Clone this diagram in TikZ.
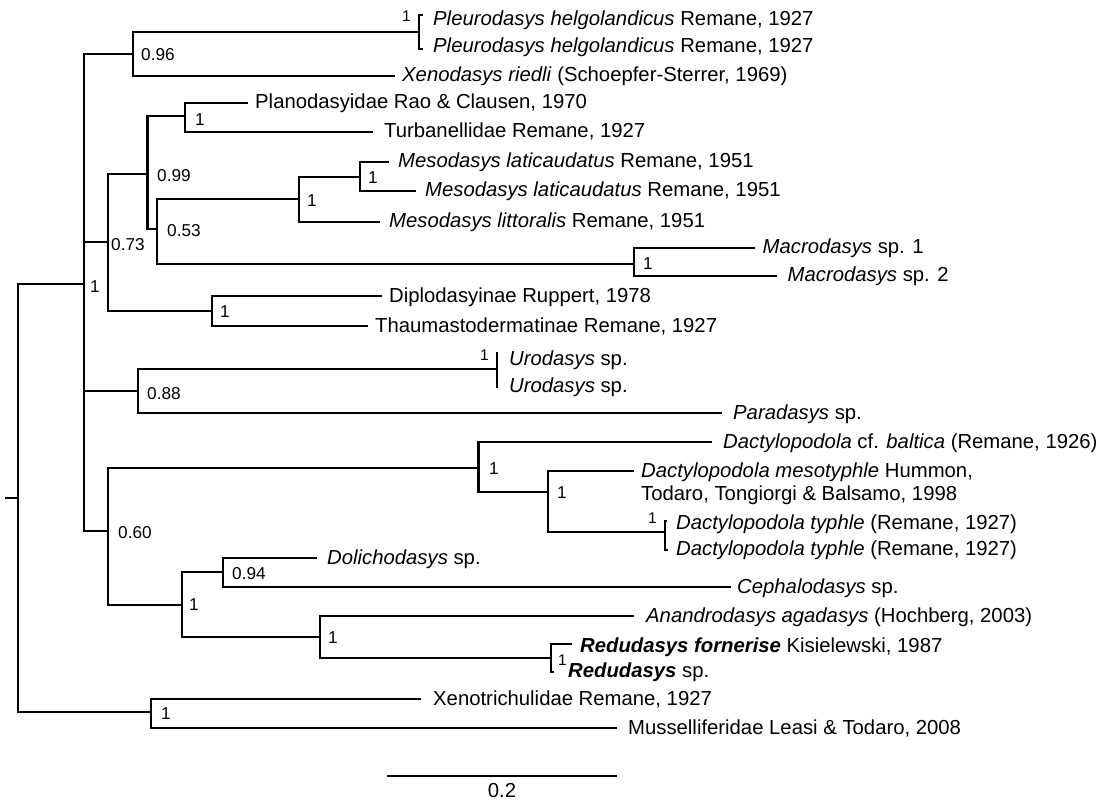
\documentclass[tikz,border=0pt]{standalone}
\usepackage{fontspec}
\setmainfont{Liberation Sans}
\begin{document}
\begin{tikzpicture}[x=1pt,y=-1pt,
  br/.style={line width=2.9pt},
  leaf/.style={anchor=base west, inner sep=0pt, font=\fontsize{20.3}{23}\selectfont},
  sup/.style={anchor=west, inner sep=0pt, font=\fontsize{17.2}{20}\selectfont},
  bsup/.style={inner sep=0pt, font=\fontsize{15.5}{18}\selectfont}]
\useasboundingbox (0,0) rectangle (1111,802);
% internal nodes
\coordinate (r0) at (5,498);
\coordinate (R) at (18,498);
\coordinate (A) at (84,284);
\coordinate (B) at (133,54);
\coordinate (Pl) at (419,32);
\coordinate (C) at (108,242);
\coordinate (D) at (147.5,174);
\coordinate (E) at (185,116);
\coordinate (F) at (157,229);
\coordinate (G) at (299,199);
\coordinate (H) at (360,177);
\coordinate (I) at (634,264);
\coordinate (J) at (212,311);
\coordinate (K) at (138,391);
\coordinate (Ur) at (497,369);
\coordinate (M) at (108,531);
\coordinate (N) at (478.6,468);
\coordinate (O) at (548,492);
\coordinate (Ty) at (665,532);
\coordinate (Q) at (182,605);
\coordinate (Rr) at (223,572);
\coordinate (S) at (320,637);
\coordinate (T) at (551,658);
\coordinate (U) at (151,712);
% leaf line ends
\coordinate (e1) at (423,15);
\coordinate (e2) at (423,49);
\coordinate (e3) at (395,76);
\coordinate (e4) at (247.5,103);
\coordinate (e5) at (373,132);
\coordinate (e6) at (388.6,162);
\coordinate (e7) at (416,191);
\coordinate (e8) at (380,222);
\coordinate (e9) at (755,248);
\coordinate (e10) at (777,276);
\coordinate (e11) at (382,296);
\coordinate (e12) at (368,326);
\coordinate (e13) at (497,352);
\coordinate (e14) at (497,388);
\coordinate (e15) at (722,413);
\coordinate (e16) at (711.6,442);
\coordinate (e17) at (634,471);
\coordinate (e18) at (667,521);
\coordinate (e19) at (668,550);
\coordinate (e20) at (317,558);
\coordinate (e21) at (730.5,587);
\coordinate (e22) at (633.7,616);
\coordinate (e23) at (572,644);
\coordinate (e24) at (554,672);
\coordinate (e25) at (421,699);
\coordinate (e26) at (617,728);
% leaf labels
\node[leaf] (l1) at (433,26) {\textit{Pleurodasys helgolandicus} Remane, 1927};
\node[leaf] (l2) at (433,53) {\textit{Pleurodasys helgolandicus} Remane, 1927};
\node[leaf] (l3) at (402,82) {\textit{Xenodasys riedli} (Schoepfer-Sterrer, 1969)};
\node[leaf] (l4) at (255,109) {Planodasyidae Rao \& Clausen, 1970};
\node[leaf] (l5) at (384,138) {Turbanellidae Remane, 1927};
\node[leaf] (l6) at (398,168) {\textit{Mesodasys laticaudatus} Remane, 1951};
\node[leaf] (l7) at (425,197) {\textit{Mesodasys laticaudatus} Remane, 1951};
\node[leaf] (l8) at (389,228) {\textit{Mesodasys littoralis} Remane, 1951};
\node[leaf] (l9) at (762.5,254) {\textit{Macrodasys} sp. 1};
\node[leaf] (l10) at (787.5,282) {\textit{Macrodasys} sp. 2};
\node[leaf] (l11) at (389,302) {Diplodasyinae Ruppert, 1978};
\node[leaf] (l12) at (375,332) {Thaumastodermatinae Remane, 1927};
\node[leaf] (l13) at (509,365) {\textit{Urodasys} sp.};
\node[leaf] (l14) at (509,392) {\textit{Urodasys} sp.};
\node[leaf] (l15) at (733,419) {\textit{Paradasys} sp.};
\node[leaf] (l16) at (723,448) {\textit{Dactylopodola} cf. \textit{baltica} (Remane, 1926)};
\node[leaf] (l17) at (641,477) {\begin{tabular}[t]{@{}l@{}}\textit{Dactylopodola mesotyphle} Hummon,\\ Todaro, Tongiorgi \& Balsamo, 1998\end{tabular}};
\node[leaf] (l18) at (676,529) {\textit{Dactylopodola typhle} (Remane, 1927)};
\node[leaf] (l19) at (676,555) {\textit{Dactylopodola typhle} (Remane, 1927)};
\node[leaf] (l20) at (327,564) {\textit{Dolichodasys} sp.};
\node[leaf] (l21) at (737,593) {\textit{Cephalodasys} sp.};
\node[leaf] (l22) at (646,622) {\textit{Anandrodasys agadasys} (Hochberg, 2003)};
\node[leaf] (l23) at (580,652) {\textbf{\textit{Redudasys fornerise}} Kisielewski, 1987};
\node[leaf] (l24) at (568,677) {\textbf{\textit{Redudasys}} sp.};
\node[leaf] (l25) at (433,705) {Xenotrichulidae Remane, 1927};
\node[leaf] (l26) at (628,734) {Musselliferidae Leasi \& Todaro, 2008};
% branches
\draw[br] (r0) -- (R);
\draw[br] (R) |- (A);
\draw[br] (R) |- (U);
\draw[br] (A) |- (B);
\draw[br] (A) |- (C);
\draw[br] (A) |- (K);
\draw[br] (A) |- (M);
\draw[br] (B) |- (Pl);
\draw[br] (B) |- (e3);
\draw[br] (Pl) |- (e1);
\draw[br] (Pl) |- (e2);
\draw[br] (C) |- (D);
\draw[br] (C) |- (J);
\draw[br] (D) |- (E);
\draw[br] (D) |- (F);
\draw[br] (E) |- (e4);
\draw[br] (E) |- (e5);
\draw[br] (F) |- (G);
\draw[br] (F) |- (I);
\draw[br] (G) |- (H);
\draw[br] (G) |- (e8);
\draw[br] (H) |- (e6);
\draw[br] (H) |- (e7);
\draw[br] (I) |- (e9);
\draw[br] (I) |- (e10);
\draw[br] (J) |- (e11);
\draw[br] (J) |- (e12);
\draw[br] (K) |- (Ur);
\draw[br] (K) |- (e15);
\draw[br] (Ur) -- (e13);
\draw[br] (Ur) -- (e14);
\draw[br] (M) |- (N);
\draw[br] (M) |- (Q);
\draw[br] (N) |- (e16);
\draw[br] (N) |- (O);
\draw[br] (O) |- (e17);
\draw[br] (O) |- (Ty);
\draw[br] (Ty) |- (e18);
\draw[br] (Ty) |- (e19);
\draw[br] (Q) |- (Rr);
\draw[br] (Q) |- (S);
\draw[br] (Rr) |- (e20);
\draw[br] (Rr) |- (e21);
\draw[br] (S) |- (e22);
\draw[br] (S) |- (T);
\draw[br] (T) |- (e23);
\draw[br] (T) |- (e24);
\draw[br] (U) |- (e25);
\draw[br] (U) |- (e26);
% support values
\node[sup] (sA) at (90,287) {1};
\node[sup] (sB) at (141,55) {0.96};
\node[sup] (sC) at (111,245) {0.73};
\node[sup] (sD) at (157,176) {0.99};
\node[sup] (sE) at (195,120) {1};
\node[sup] (sF) at (167,231) {0.53};
\node[sup] (sG) at (307,201) {1};
\node[sup] (sH) at (368,178) {1};
\node[sup] (sI) at (643,264) {1};
\node[sup] (sJ) at (220,312) {1};
\node[sup] (sK) at (147,394) {0.88};
\node[sup] (sM) at (118,533) {0.60};
\node[sup] (sN) at (489,469) {1};
\node[sup] (sO) at (557,493) {1};
\node[sup] (sQ) at (189,605) {1};
\node[sup] (sR) at (232,574) {0.94};
\node[sup] (sS) at (328,638) {1};
\node[sup] (sU) at (161,714) {1};
\node[bsup, anchor=east] (sPl) at (411,16) {1};
\node[bsup, anchor=east] (sUr) at (489,355) {1};
\node[bsup, anchor=east] (sTy) at (657,518) {1};
\node[bsup, anchor=west] (sT) at (558,660) {1};
% scale bar
\coordinate (sb1) at (387,776);
\coordinate (sb2) at (617,776);
\draw[br] (sb1) -- (sb2);
\node[leaf, anchor=base] (sbl) at (502,797) {0.2};
\end{tikzpicture}
\end{document}
